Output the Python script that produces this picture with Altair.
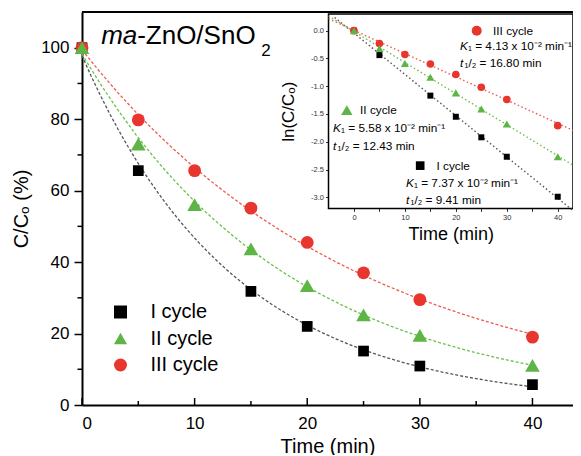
import altair as alt
import pandas as pd

# ---------------- data ----------------
cycles = ["I cycle", "II cycle", "III cycle"]
point_colors = ["#000000", "#5cb545", "#e8352e"]
line_colors = ["#555555", "#6cc04a", "#ee5a50"]
shapes = ["square", "triangle-up", "circle"]

time_I = [0, 5, 15, 20, 25, 30, 40]
cc_I = [100, 65.6, 31.8, 22.0, 15.1, 10.9, 5.7]
time_II = [0, 5, 10, 15, 20, 25, 30, 40]
cc_II = [100, 73.0, 56.1, 43.7, 33.4, 25.2, 19.5, 11.1]
time_III = [0, 5, 10, 15, 20, 25, 30, 40]
cc_III = [100, 79.8, 65.6, 55.1, 45.5, 37.0, 29.5, 19.0]

ln_I = [0, -0.44, -1.17, -1.55, -1.92, -2.27, -2.99]
ln_II = [0, -0.32, -0.59, -0.84, -1.12, -1.41, -1.68, -2.27]
ln_III = [0, -0.23, -0.43, -0.60, -0.79, -1.02, -1.24, -1.71]

# extents of the dotted linear fits in the inset
fit_extent = {"I cycle": [-3.8, 42.8], "II cycle": [-5, 43], "III cycle": [-5, 43]}

main_x_major = [0, 10, 20, 30, 40]
main_x_minor = [5, 15, 25, 35]
main_y_major = [0, 20, 40, 60, 80, 100]
main_y_minor = [10, 30, 50, 70, 90]
inset_x_ticks = [0, 5, 10, 15, 20, 25, 30, 35, 40]
inset_y_ticks = [-3.0, -2.5, -2.0, -1.5, -1.0, -0.5, 0.0]

# inset annotation content
ann_cycle = ["III cycle", "II cycle", "I cycle"]
ann_marker_t = [24.1, -1.4, 13.0]
ann_marker_v = [0.0, -1.43, -2.43]
ann_label_t = [27.3, 1.2, 16.2]
ann_k_t = [20.8, -4.1, 10.2]
ann_k_v = [-0.27, -1.76, -2.74]
ann_k_text = ["\u2081 = 4.13 x 10\u207b\u00b2 min\u207b\u00b9",
              "\u2081 = 5.58 x 10\u207b\u00b2 min\u207b\u00b9",
              "\u2081 = 7.37 x 10\u207b\u00b2 min\u207b\u00b9"]
ann_h_v = [-0.59, -2.07, -3.05]
ann_h_text = ["\u2081/\u2082 = 16.80 min", "\u2081/\u2082 = 12.43 min", "\u2081/\u2082 = 9.41 min"]

title_x = [1.7]
title_y = [101]

# ---------------- tables ----------------
main_df = pd.DataFrame({
    "time": time_I + time_II + time_III,
    "cc": cc_I + cc_II + cc_III,
    "cycle": [cycles[0]] * len(time_I) + [cycles[1]] * len(time_II) + [cycles[2]] * len(time_III),
})
inset_df = pd.DataFrame({
    "time": time_I + time_II + time_III,
    "ln": ln_I + ln_II + ln_III,
    "cycle": [cycles[0]] * len(time_I) + [cycles[1]] * len(time_II) + [cycles[2]] * len(time_III),
})
ann_df = pd.DataFrame({
    "cycle": ann_cycle, "mt": ann_marker_t, "mv": ann_marker_v, "lt": ann_label_t,
    "kt": ann_k_t, "kv": ann_k_v, "ktext": ann_k_text, "hv": ann_h_v, "htext": ann_h_text,
})

# ---------------- layout (pixels) and marker sizes ----------------
W, H = 491, 393
IX0, IX1 = 246.5, 491.0      # inset frame, x range inside the plot area
IY0, IY1 = 2.0, 196.4        # inset frame, y range inside the plot area
main_sizes = {"I cycle": 115, "II cycle": 215, "III cycle": 165}
inset_sizes = {"I cycle": 36, "II cycle": 66, "III cycle": 58}
ann_sizes = {"I cycle": 75, "II cycle": 130, "III cycle": 100}
draw_order = ["I cycle", "III cycle", "II cycle"]

color_scale = alt.Scale(domain=cycles, range=point_colors)
stroke_scale = alt.Scale(domain=cycles, range=line_colors)
shape_scale = alt.Scale(domain=cycles, range=shapes)

mx = lambda f: alt.X(f, type="quantitative", scale=alt.Scale(domain=[0, 43.6], nice=False, zero=False),
                     axis=alt.Axis(values=main_x_major, ticks=False, labelPadding=10, labelFontSize=17,
                                   labelColor="black", domainColor="black", domainWidth=2, grid=False,
                                   title="Time (min)", titleFontSize=20, titleFontWeight="normal",
                                   titlePadding=5, titleColor="black"))
my = lambda f: alt.Y(f, type="quantitative", scale=alt.Scale(domain=[0, 110], nice=False),
                     axis=alt.Axis(values=main_y_major, tickSize=8, tickWidth=1.5, tickColor="black",
                                   labelPadding=5, labelFontSize=17, labelColor="black",
                                   domainColor="black", domainWidth=2, grid=False,
                                   title="C/C\u2092 (%)", titleFontSize=20, titleFontWeight="normal",
                                   titlePadding=9, titleColor="black"))

legend = alt.Legend(orient="none", legendX=28.5, legendY=290, title=None, labelFontSize=20,
                    labelColor="black", symbolSize=169, symbolStrokeWidth=0, labelOffset=20,
                    rowPadding=6.5, padding=0)

main_fit = alt.Chart(main_df).transform_regression(
    "time", "cc", method="exp", groupby=["cycle"], extent=[0, 40]
).mark_line(strokeDash=[3, 2], strokeWidth=1.3).encode(
    x=mx("time"), y=my("cc"),
    stroke=alt.Stroke("cycle:N", scale=stroke_scale, legend=None),
    detail="cycle:N",
)

main_pts = [
    alt.Chart(main_df).transform_filter(alt.datum.cycle == c).mark_point(
        filled=True, opacity=1, strokeWidth=0, size=main_sizes[c]
    ).encode(
        x=mx("time"), y=my("cc"),
        color=alt.Color("cycle:N", scale=color_scale, legend=legend, sort=cycles),
        shape=alt.Shape("cycle:N", scale=shape_scale, legend=legend, sort=cycles),
    )
    for c in draw_order
]

xt_major = alt.Chart(pd.DataFrame({"v": main_x_major})).mark_rule(color="black", strokeWidth=1.5).encode(
    x=mx("v"), y=alt.value(H), y2=alt.value(H - 7))
xt_minor = alt.Chart(pd.DataFrame({"v": main_x_minor})).mark_rule(color="black", strokeWidth=1.5).encode(
    x=mx("v"), y=alt.value(H), y2=alt.value(H - 4))
yt_minor = alt.Chart(pd.DataFrame({"v": main_y_minor})).mark_rule(color="black", strokeWidth=1.5).encode(
    y=my("v"), x=alt.value(0), x2=alt.value(-4.5))
top_border = alt.Chart(pd.DataFrame({"a": [0]})).mark_rule(color="black", strokeWidth=2).encode(
    x=alt.value(0), x2=alt.value(W), y=alt.value(0))

tdf = pd.DataFrame({"x": title_x, "y": title_y})
t_ma = alt.Chart(tdf).mark_text(text="ma", fontStyle="italic", fontSize=26, align="left",
                                baseline="alphabetic", color="black").encode(x=mx("x"), y=my("y"))
t_rest = alt.Chart(tdf).mark_text(text="-ZnO/SnO", fontSize=26, align="left", dx=36,
                                  baseline="alphabetic", color="black").encode(x=mx("x"), y=my("y"))
t_sub = alt.Chart(tdf).mark_text(text="2", fontSize=17, align="left", dx=160, dy=12,
                                 baseline="alphabetic", color="black").encode(x=mx("x"), y=my("y"))

main = alt.layer(main_fit, xt_major, xt_minor, yt_minor, top_border, *main_pts, t_ma, t_rest, t_sub)

# ---------------- inset ----------------
ix = lambda f: alt.X(f, type="quantitative",
                     scale=alt.Scale(domain=[-5, 43], range=[IX0, IX1], nice=False, zero=False),
                     axis=alt.Axis(orient="bottom", offset=IY1 - H, values=inset_x_ticks,
                                   labelExpr="datum.value % 10 == 0 ? datum.label : ''",
                                   tickSize=3, tickColor="#333", labelFontSize=7.5, labelColor="#333",
                                   labelPadding=2, domain=False, grid=False, title="Time (min)",
                                   titleFontSize=18, titleFontWeight="normal", titleColor="black",
                                   titlePadding=5))
iy = lambda f: alt.Y(f, type="quantitative",
                     scale=alt.Scale(domain=[-3.2, 0.3], range=[IY1, IY0], nice=False, zero=False),
                     axis=alt.Axis(orient="left", offset=-IX0, values=inset_y_ticks, format=".1f",
                                   labelExpr="replace(datum.label, '\u2212', '-')",
                                   tickSize=3, tickColor="#333", labelFontSize=7.5, labelColor="#333",
                                   labelPadding=2, domain=False, grid=False, title="ln(C/C\u2092)",
                                   titleFontSize=17, titleFontWeight="normal", titleColor="black",
                                   titlePadding=13))

frame = alt.Chart(pd.DataFrame({"a": [0]})).mark_rect(fill="white", stroke="black", strokeWidth=1.5).encode(
    x=alt.value(IX0), x2=alt.value(IX1), y=alt.value(IY0), y2=alt.value(IY1))

inset_fits = [
    alt.Chart(inset_df).transform_filter(alt.datum.cycle == c).transform_regression(
        "time", "ln", method="linear", extent=fit_extent[c]
    ).mark_line(strokeDash=[1.5, 2.5], strokeWidth=1.4, color=lc).encode(x=ix("time"), y=iy("ln"))
    for c, lc in zip(cycles, line_colors)
]
inset_pts = [
    alt.Chart(inset_df).transform_filter(alt.datum.cycle == c).mark_point(
        filled=True, opacity=1, strokeWidth=0, size=inset_sizes[c]
    ).encode(
        x=ix("time"), y=iy("ln"),
        color=alt.Color("cycle:N", scale=color_scale, legend=None),
        shape=alt.Shape("cycle:N", scale=shape_scale, legend=None),
    )
    for c in draw_order
]
ann_pts = [
    alt.Chart(ann_df).transform_filter(alt.datum.cycle == c).mark_point(
        filled=True, opacity=1, strokeWidth=0, size=ann_sizes[c]
    ).encode(
        x=ix("mt"), y=iy("mv"),
        color=alt.Color("cycle:N", scale=color_scale, legend=None),
        shape=alt.Shape("cycle:N", scale=shape_scale, legend=None),
    )
    for c in cycles
]
FS = 11.8
ann_lbl = alt.Chart(ann_df).mark_text(fontSize=FS, align="left", baseline="middle", color="black").encode(
    x=ix("lt"), y=iy("mv"), text="cycle:N")
ann_k = alt.Chart(ann_df).mark_text(text="K", fontStyle="italic", fontSize=FS, align="left",
                                    baseline="middle", color="black").encode(x=ix("kt"), y=iy("kv"))
ann_k2 = alt.Chart(ann_df).mark_text(fontSize=FS, align="left", baseline="middle", dx=8,
                                     color="black").encode(x=ix("kt"), y=iy("kv"), text="ktext:N")
ann_h = alt.Chart(ann_df).mark_text(text="t", fontStyle="italic", fontSize=FS, align="left",
                                    baseline="middle", color="black").encode(x=ix("kt"), y=iy("hv"))
ann_h2 = alt.Chart(ann_df).mark_text(fontSize=FS, align="left", baseline="middle", dx=4.5,
                                     color="black").encode(x=ix("kt"), y=iy("hv"), text="htext:N")

inset = alt.layer(frame, *inset_fits, *inset_pts, *ann_pts, ann_lbl, ann_k, ann_k2, ann_h, ann_h2)

chart = alt.layer(main, inset).resolve_scale(
    x="independent", y="independent", color="independent", shape="independent"
).resolve_axis(x="independent", y="independent").resolve_legend(
    color="independent", shape="independent"
).properties(
    width=W, height=H, autosize=alt.AutoSizeParams(type="none"),
    padding={"left": 74, "top": 4, "right": 0, "bottom": 50},
).configure_view(stroke=None).configure(font="Liberation Sans")

chart.save("out.html", embed_options={"renderer": "svg", "actions": False})
